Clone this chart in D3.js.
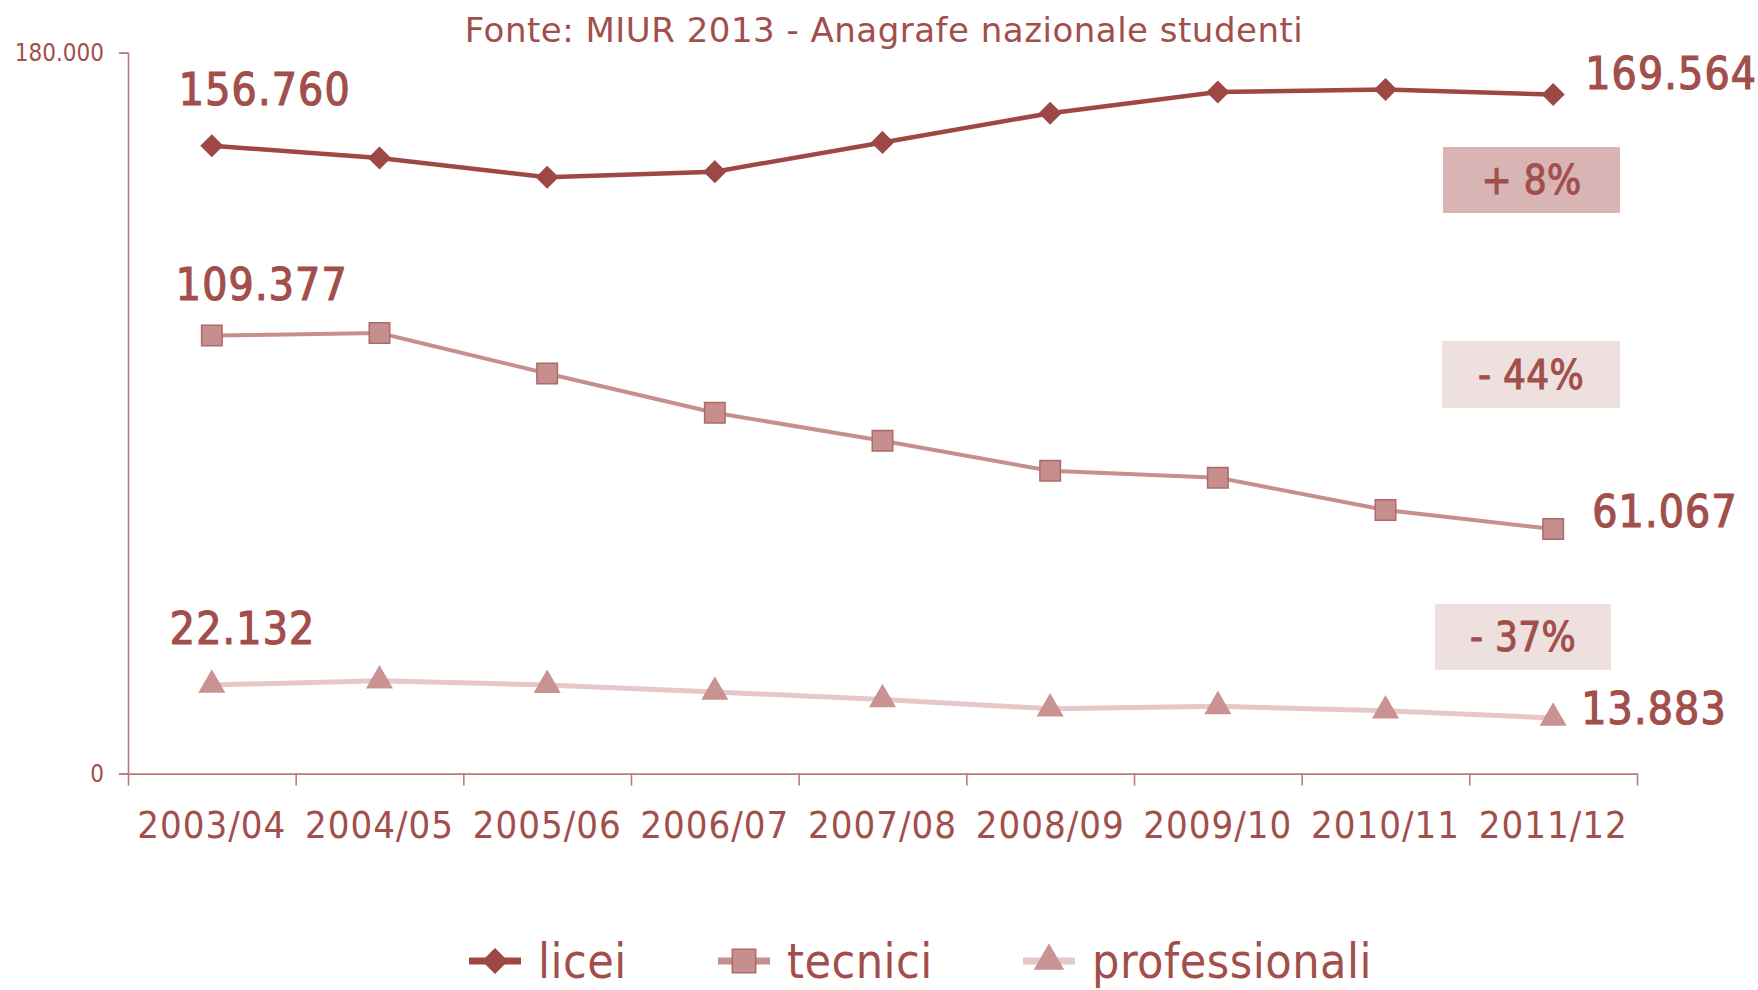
<!DOCTYPE html>
<html>
<head>
<meta charset="utf-8">
<script src="https://cdn.jsdelivr.net/npm/d3@7"></script>
<style>
  html, body { margin: 0; padding: 0; background: #ffffff; }
  svg text { font-family: "DejaVu Sans Condensed", "DejaVu Sans", sans-serif; }
</style>
</head>
<body>
<div id="graph"></div>
<script>
// Data
const years = ["2003/04", "2004/05", "2005/06", "2006/07", "2007/08", "2008/09", "2009/10", "2010/11", "2011/12"];
const licei = [156760, 153700, 148900, 150300, 157600, 164900, 170200, 170800, 169564];
const tecnici = [109377, 110000, 99900, 90100, 83100, 75600, 73900, 65800, 61067];
const professionali = [22132, 23200, 22100, 20400, 18500, 16200, 16800, 15700, 13883];
const seriesNames = ["licei", "tecnici", "professionali"];
const changeLabels = ["+ 8%", "- 44%", "- 37%"];
const yTickLabels = ["0", "180.000"];

const W = 1758, H = 990;
const textColor = "#a24f4c";
const axisColor = "#bb7a78";

// diamond = square turned by 45 degrees
const diamond = {
  draw(ctx, size) {
    const r = Math.sqrt(size / 2);
    ctx.moveTo(0, -r); ctx.lineTo(r, 0); ctx.lineTo(0, r); ctx.lineTo(-r, 0); ctx.closePath();
  }
};

const styles = {
  licei:         { line: "#9e4845", fill: "#9e4845", stroke: "#9e4845", width: 4.5, symbol: diamond,          size: 220, box: "#d8b5b4" },
  tecnici:       { line: "#c68f8d", fill: "#c68f8d", stroke: "#ad6a68", width: 4,   symbol: d3.symbolSquare,  size: 420, box: "#efe0e0" },
  professionali: { line: "#e5c8c7", fill: "#c99391", stroke: "#c99391", width: 5,   symbol: d3.symbolTriangle, size: 260, box: "#efe0e0" }
};

const svg = d3.select("#graph").append("svg")
  .attr("width", W).attr("height", H);

const x = d3.scalePoint().domain(years).range([128, 1637]).padding(0.5);
const xEdge = d3.scaleLinear().domain([0, years.length]).range([128, 1637]);
const y = d3.scaleLinear().domain([0, 180000]).range([773.6, 52.7]);

// Title
svg.append("text")
  .attr("x", 884).attr("y", 42)
  .attr("text-anchor", "middle")
  .attr("font-size", 34)
  .attr("letter-spacing", 0.5)
  .style("font-family", "\"DejaVu Sans\", sans-serif")
  .attr("fill", textColor)
  .text("Fonte: MIUR 2013 - Anagrafe nazionale studenti");

// Y axis (only 0 and max)
const yAxis = d3.axisLeft(y).tickValues([0, 180000]).tickSize(9)
  .tickFormat((d, i) => yTickLabels[i]);
const gy = svg.append("g").attr("transform", "translate(128,0)").call(yAxis);
gy.select(".domain").attr("stroke", axisColor).attr("stroke-width", 1.6);
gy.selectAll(".tick line").attr("stroke", axisColor).attr("stroke-width", 1.6);
gy.selectAll(".tick text").attr("font-size", 24).attr("fill", textColor).attr("x", -24)
  .style("font-family", "\"DejaVu Sans Condensed\", sans-serif");

// X axis with ticks at category edges
const xAxis = d3.axisBottom(xEdge).tickValues(d3.range(years.length + 1)).tickSize(12)
  .tickSizeOuter(0).tickFormat("");
const gx = svg.append("g").attr("transform", `translate(0,${y(0)})`).call(xAxis);
gx.select(".domain").attr("stroke", axisColor).attr("stroke-width", 1.6);
gx.selectAll(".tick line").attr("stroke", axisColor).attr("stroke-width", 1.6);

svg.append("g").selectAll("text").data(years).enter().append("text")
  .attr("x", d => x(d)).attr("y", 838)
  .attr("text-anchor", "middle")
  .attr("font-size", 38)
  .attr("letter-spacing", 1)
  .attr("fill", textColor)
  .text(d => d);

// Lines and markers
const allSeries = [licei, tecnici, professionali];
const line = d3.line().x((d, i) => x(years[i])).y(d => y(d));

allSeries.slice().reverse().forEach((vals, ri) => {
  const name = seriesNames[allSeries.length - 1 - ri];
  const st = styles[name];
  svg.append("path").datum(vals)
    .attr("fill", "none")
    .attr("stroke", st.line)
    .attr("stroke-width", st.width)
    .attr("d", line);
  svg.append("g").selectAll("path").data(vals).enter().append("path")
    .attr("transform", (d, i) => `translate(${x(years[i])},${y(d)})`)
    .attr("d", d3.symbol().type(st.symbol).size(st.size))
    .attr("fill", st.fill)
    .attr("stroke", st.stroke)
    .attr("stroke-width", 1.5);
});

// Start / end value labels
const fmt = d3.formatLocale({ decimal: ",", thousands: ".", grouping: [3] }).format(",d");
const labelOffsets = [
  { sx: -33, sy: -41, ex: 32, ey: -5 },
  { sx: -36, sy: -36, ex: 39, ey: -2 },
  { sx: -42, sy: -41, ex: 28, ey: 6 }
];
function valueLabel(px, py, txt) {
  svg.append("text")
    .attr("x", px).attr("y", py)
    .attr("font-size", 44).attr("letter-spacing", 1.2)
    .attr("fill", textColor)
    .attr("stroke", textColor).attr("stroke-width", 1.2)
    .text(txt);
}
allSeries.forEach((vals, k) => {
  const o = labelOffsets[k];
  const last = vals.length - 1;
  valueLabel(x(years[0]) + o.sx, y(vals[0]) + o.sy, fmt(vals[0]));
  valueLabel(x(years[last]) + o.ex, y(vals[last]) + o.ey, fmt(vals[last]));
});

// Percentage change boxes
const boxes = [
  { x: 1443, y: 147, w: 177, h: 66 },
  { x: 1442, y: 341, w: 178, h: 67 },
  { x: 1435, y: 604, w: 176, h: 66 }
];
boxes.forEach((b, k) => {
  const st = styles[seriesNames[k]];
  svg.append("rect")
    .attr("x", b.x).attr("y", b.y).attr("width", b.w).attr("height", b.h)
    .attr("fill", st.box);
  svg.append("text")
    .attr("x", b.x + b.w / 2).attr("y", b.y + b.h / 2 + 14)
    .attr("text-anchor", "middle")
    .attr("font-size", 40).attr("letter-spacing", 0.3)
    .attr("fill", textColor)
    .attr("stroke", textColor).attr("stroke-width", 1)
    .text(changeLabels[k]);
});

// Legend
const legendX = [469, 718, 1023];
const legendY = 961;
seriesNames.forEach((name, k) => {
  const st = styles[name];
  const g = svg.append("g").attr("transform", `translate(${legendX[k]},${legendY})`);
  g.append("line").attr("x1", 0).attr("x2", 52).attr("y1", 0).attr("y2", 0)
    .attr("stroke", st.line).attr("stroke-width", 7);
  g.append("path").attr("transform", "translate(26,0)")
    .attr("d", d3.symbol().type(st.symbol).size(st.size * 1.3))
    .attr("fill", st.fill).attr("stroke", st.stroke).attr("stroke-width", 1.5);
  g.append("text").attr("x", 69).attr("y", 17)
    .attr("font-size", 48).attr("letter-spacing", 0.5)
    .attr("fill", textColor)
    .text(name);
});
</script>
</body>
</html>
